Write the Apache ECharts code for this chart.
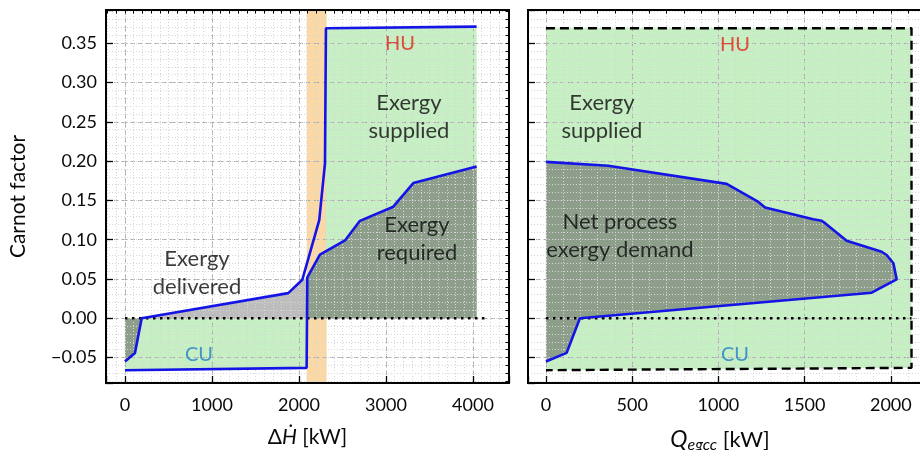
<!DOCTYPE html>
<html><head><meta charset="utf-8">
<script src="https://cdn.jsdelivr.net/npm/echarts@6/dist/echarts.min.js"></script>
<style>html,body{margin:0;padding:0;background:#fff}#c{width:920px;height:450px}</style>
</head><body><div id="c"></div>
<script>
// ---- Left panel: composite curves (x: ΔH kW, y: Carnot factor)
const hotX  = [0, 115, 192, 1877, 2038, 2233, 2299, 2310, 4042];
const hotY  = [-0.055, -0.044, 0.0, 0.032, 0.049, 0.125, 0.197, 0.369, 0.371];
const coldX = [0, 2088, 2096, 2241, 2529, 2701, 3084, 3314, 4042];
const coldY = [-0.066, -0.063, 0.052, 0.081, 0.099, 0.124, 0.142, 0.172, 0.193];
const bandX = [2088, 2318];
const zeroLeftX = [0, 4170];
// ---- Right panel: exergy grand composite curve
const gccX = [0, 120, 197, 1889, 2034, 2015, 1976, 1947, 1744, 1619, 1599, 1550, 1271, 1232, 1048, 361, 0];
const gccY = [-0.055, -0.044, 0.0, 0.0326, 0.0496, 0.070, 0.0805, 0.0847, 0.0988, 0.121, 0.124, 0.126, 0.141, 0.148, 0.171, 0.194, 0.199];
const boxX = [0, 2120, 2120, 0];
const boxY = [0.369, 0.369, -0.063, -0.066];
const zeroRightX = [0, 2120];
// ---- Tick labels
const yTicks = [-0.05, 0.00, 0.05, 0.10, 0.15, 0.20, 0.25, 0.30, 0.35];
const xTicksLeft = [0, 1000, 2000, 3000, 4000];
const xTicksRight = [0, 500, 1000, 1500, 2000];

const pts = (xs, ys) => xs.map((x, i) => [x, ys[i]]);
const hot = pts(hotX, hotY), cold = pts(coldX, coldY), gcc = pts(gccX, gccY), box = pts(boxX, boxY);

const GREEN = '#c6efc3', DARK = '#8d9f8b', GRAY = '#bdbdbd', BLUE = '#1414e6';
const FONT = 'Lato';
const INK = '#0a0a0a';

function poly(points, color, xi, yi) {
  return {
    type: 'custom', xAxisIndex: xi, yAxisIndex: yi, z: 1, silent: true, clip: true,
    data: [0],
    renderItem: (p, api) => ({ type: 'polygon', shape: { points: points.map(q => api.coord(q)) }, style: { fill: color } })
  };
}
function line(data, xi, yi, extra) {
  return Object.assign({
    type: 'line', xAxisIndex: xi, yAxisIndex: yi, data, showSymbol: false, symbol: 'none', z: 5, silent: true,
    lineStyle: { color: BLUE, width: 2.6 }, animation: false
  }, extra || {});
}
function txt(x, y, text, xi, yi, color, size) {
  return {
    type: 'scatter', xAxisIndex: xi, yAxisIndex: yi, z: 6, symbolSize: 0, silent: true,
    data: [[x, y]],
    label: { show: true, position: 'inside', formatter: text, color: color || INK, fontSize: size || 22, lineHeight: 28, fontFamily: FONT, align: 'center' }
  };
}
const onTick = (ticks, v) => ticks.find(t => Math.abs(t - v) < 1e-9);
const yFmt = v => { const t = onTick(yTicks, v); return t === undefined ? '' : t.toFixed(2).replace('-', '\u2212'); };
const xFmt = ticks => v => { const t = onTick(ticks, v); return t === undefined ? '' : String(t); };

function xAxes(gi, min, max, major, ticks, name, rich) {
  return [{
    gridIndex: gi, type: 'value', min, max, minInterval: major, maxInterval: major, z: 3,
    axisLine: { show: true, onZero: false, lineStyle: { color: '#000', width: 2 } },
    axisTick: { inside: true, length: 7, lineStyle: { color: '#000', width: 1.3 } },
    axisLabel: { formatter: xFmt(ticks), color: INK, fontSize: 18, fontFamily: FONT, margin: 13 },
    splitLine: { show: true, lineStyle: { color: '#aaa', type: [5, 3], width: 1 } },
    name, nameLocation: 'middle', nameGap: 44,
    nameTextStyle: { fontSize: 21, fontFamily: FONT, color: INK, rich }
  }, {
    gridIndex: gi, type: 'value', min, max, minInterval: 100, maxInterval: 100, splitNumber: 40, z: 3,
    axisLine: { show: false, onZero: false }, axisLabel: { show: false },
    axisTick: { inside: true, length: 3.5, lineStyle: { color: '#000', width: 1 } },
    splitLine: { show: true, lineStyle: { color: '#d6d6d6', type: [1, 2], width: 1 } }
  }];
}
function yAxes(gi, showLabels) {
  const min = -0.0823, max = 0.3922;
  return [{
    gridIndex: gi, type: 'value', min, max, minInterval: 0.05, maxInterval: 0.05, z: 3,
    axisLine: { show: true, onZero: false, lineStyle: { color: '#000', width: 2 } },
    axisTick: { inside: true, length: 7, lineStyle: { color: '#000', width: 1.3 } },
    axisLabel: { show: showLabels, formatter: yFmt, color: INK, fontSize: 18, fontFamily: FONT, margin: 9 },
    splitLine: { show: true, lineStyle: { color: '#aaa', type: [5, 3], width: 1 } },
    name: showLabels ? 'Carnot factor' : '', nameLocation: 'middle', nameGap: 77,
    nameTextStyle: { fontSize: 21, fontFamily: FONT, color: INK }
  }, {
    gridIndex: gi, type: 'value', min, max, minInterval: 0.01, maxInterval: 0.01, splitNumber: 45, z: 3,
    axisLine: { show: false, onZero: false }, axisLabel: { show: false },
    axisTick: { inside: true, length: 3.5, lineStyle: { color: '#000', width: 1 } },
    splitLine: { show: true, lineStyle: { color: '#d6d6d6', type: [1, 2], width: 1 } }
  }];
}

const leftName = '{d|\u0394}{h|H\u0307}{d| [kW]}';
const leftRich = { d: { fontSize: 21, fontFamily: FONT, color: INK }, h: { fontSize: 21, fontStyle: 'italic', fontFamily: FONT, color: INK } };
const rightName = '{q|Q}{s|egcc}{d| [kW]}';
const rightRich = {
  q: { fontSize: 23, fontStyle: 'italic', fontFamily: FONT, color: INK },
  s: { fontSize: 16, fontStyle: 'italic', fontFamily: FONT, color: INK, padding: [10, 0, 0, 0] },
  d: { fontSize: 22, fontFamily: FONT, color: INK, padding: [0, 14, 0, 0] }
};

const greenBottom = [cold[0], cold[1], [coldX[1], 0], [hotX[0], 0]];
const darkLowLeft = [hot[0], hot[1], hot[2], [hotX[0], 0]];
const grayDelivered = [hot[2], hot[3], hot[4], cold[2], [coldX[2], 0]];
const darkRequired = [[coldX[2], 0]].concat(cold.slice(2)).concat([[coldX[coldX.length - 1], 0]]);
const greenTop = [hot[7], hot[8], [hotX[8], 0], [hotX[7], 0]];

const DOTS = { color: '#000', width: 2.6, type: [2.5, 4.5] };

const option = {
  animation: false,
  backgroundColor: '#fff',
  grid: [
    { left: 106, top: 10, width: 403, height: 373, show: true, borderColor: '#000', borderWidth: 2, z: 8, containLabel: false, outerBoundsMode: 'none' },
    { left: 528, top: 10, width: 398, height: 373, show: true, borderColor: '#000', borderWidth: 2, z: 8, containLabel: false, outerBoundsMode: 'none' }
  ],
  xAxis: [].concat(
    xAxes(0, -218, 4414, 1000, xTicksLeft, leftName, leftRich),
    xAxes(1, -104, 2204, 500, xTicksRight, rightName, rightRich)
  ),
  yAxis: [].concat(yAxes(0, true), yAxes(1, false)),
  series: [
    poly(greenBottom, GREEN, 0, 0),
    poly(greenTop, GREEN, 0, 0),
    poly(grayDelivered, GRAY, 0, 0),
    poly(darkLowLeft, DARK, 0, 0),
    poly(darkRequired, DARK, 0, 0),
    {
      type: 'line', xAxisIndex: 0, yAxisIndex: 0, data: [], z: 2, silent: true,
      markArea: { silent: true, itemStyle: { color: 'rgba(247,170,60,0.45)' }, data: [[{ xAxis: bandX[0] }, { xAxis: bandX[1] }]] }
    },
    line(zeroLeftX.map(x => [x, 0]), 0, 0, { lineStyle: DOTS, z: 4 }),
    line(hot, 0, 0),
    line(cold, 0, 0),
    txt(3161, 0.350, 'HU', 0, 0, '#e2231a', 20),
    txt(3264, 0.256, 'Exergy\nsupplied', 0, 0),
    txt(3356, 0.1015, 'Exergy\nrequired', 0, 0),
    txt(828, 0.0583, 'Exergy\ndelivered', 0, 0),
    txt(851, -0.0467, 'CU', 0, 0, '#1f80c6', 20),
    poly(box.concat([box[0]]), GREEN, 2, 2),
    poly(gcc, DARK, 2, 2),
    line(zeroRightX.map(x => [x, 0]), 2, 2, { lineStyle: DOTS, z: 4 }),
    line(box, 2, 2, { lineStyle: { color: '#000', width: 2.4, type: [9, 5] }, z: 4 }),
    line(gcc, 2, 2),
    txt(1096, 0.348, 'HU', 2, 2, '#e2231a', 20),
    txt(325, 0.256, 'Exergy\nsupplied', 2, 2),
    txt(429, 0.1047, 'Net process\nexergy demand', 2, 2),
    txt(1096, -0.0467, 'CU', 2, 2, '#1f80c6', 20)
  ]
};
const chart = echarts.init(document.getElementById('c'), null, { renderer: 'canvas' });
chart.setOption(option);
</script></body></html>
